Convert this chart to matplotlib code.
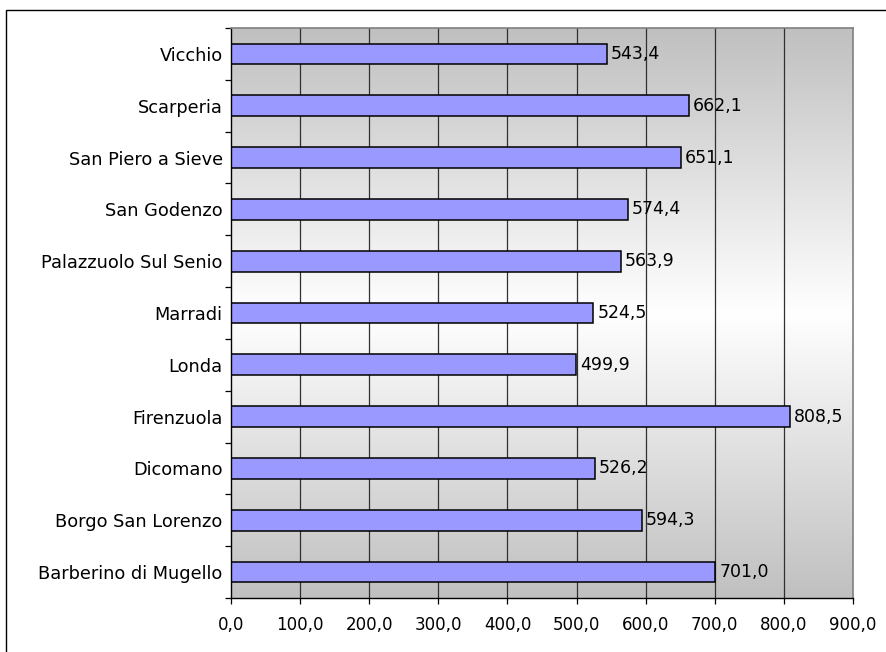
import matplotlib
matplotlib.use("Agg")
import matplotlib.pyplot as plt
import numpy as np
from matplotlib.patches import Rectangle
from matplotlib.colors import LinearSegmentedColormap

comuni = ["Barberino di Mugello", "Borgo San Lorenzo", "Dicomano", "Firenzuola",
          "Londa", "Marradi", "Palazzuolo Sul Senio", "San Godenzo",
          "San Piero a Sieve", "Scarperia", "Vicchio"]
valori = [701.0, 594.3, 526.2, 808.5, 499.9, 524.5, 563.9, 574.4, 651.1, 662.1, 543.4]
x_ticks = [0, 100, 200, 300, 400, 500, 600, 700, 800, 900]

plt.rcParams["font.family"] = ["DejaVu Sans"]

fig = plt.figure(figsize=(8.86, 6.52), dpi=100)
fig.patch.set_facecolor("white")

# outer chart frame
fig.add_artist(Rectangle((6 / 886, -0.1), 1.2, 1 - 10 / 652 + 0.1,
                         transform=fig.transFigure, fill=False,
                         edgecolor="black", lw=1.0))

ax = fig.add_axes([231 / 886, 1 - 598 / 652, (853 - 231) / 886, (598 - 28) / 652])

n = len(comuni)
ax.set_xlim(0, 900)
ax.set_ylim(-0.5, n - 0.5)

# vertical gradient background: grey at the edges, white in the middle
grad_cmap = LinearSegmentedColormap.from_list(
    "bg", [(0.0, "#c0c0c0"), (0.5, "#ffffff"), (1.0, "#c0c0c0")])
grad = np.linspace(0, 1, 256).reshape(-1, 1)
ax.imshow(grad, cmap=grad_cmap, aspect="auto", extent=(0, 900, -0.5, n - 0.5),
          origin="lower", zorder=0, interpolation="bicubic")

for xv in x_ticks[1:-1]:
    ax.axvline(xv, color="#303030", lw=0.9, zorder=1)

y = np.arange(n)
ax.barh(y, valori, height=0.4, color="#9999ff", edgecolor="black", lw=1.1, zorder=2)

for yi, v in zip(y, valori):
    ax.text(v + 6, yi, f"{v:.1f}".replace(".", ","), va="center", ha="left",
            fontsize=12.5, color="black", zorder=3)

ax.set_yticks(y)
ax.set_yticklabels(comuni, fontsize=12.8)
ax.set_yticks(np.arange(-0.5, n, 1.0), minor=True)
ax.tick_params(axis="y", which="major", length=0, pad=6)
ax.tick_params(axis="y", which="minor", length=4, width=0.9, color="black", direction="out")

ax.set_xticks(x_ticks)
ax.set_xticklabels([f"{t:.1f}".replace(".", ",") for t in x_ticks], fontsize=12)
ax.tick_params(axis="x", length=4, width=0.9, direction="out", pad=9)

for s in ["top", "right"]:
    ax.spines[s].set_color("#808080")
    ax.spines[s].set_linewidth(1.2)
for s in ["left", "bottom"]:
    ax.spines[s].set_color("black")
    ax.spines[s].set_linewidth(1.0)

fig.savefig("out.png", dpi=100)
